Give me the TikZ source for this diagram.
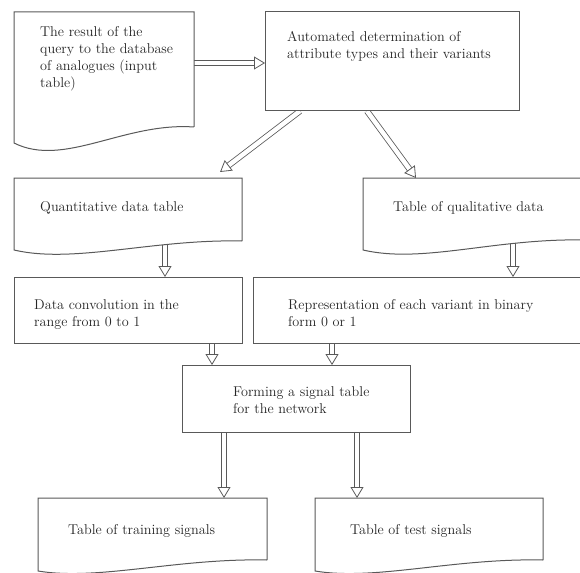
\documentclass[tikz,border=0pt]{standalone}
\usetikzlibrary{arrows.meta,calc}
\pgfdeclarelayer{bg}
\pgfsetlayers{bg,main}
\begin{document}
\begin{tikzpicture}[x=1pt,y=-1pt,
  lbl/.style={anchor=north west, inner sep=0pt, align=left,
    font=\fontsize{14.2}{17}\selectfont, text=black!85},
  frame/.style={draw=black!65, line width=1pt, fill=white},
  slot/.style={inner sep=0pt, outer sep=0pt},
  hollow/.style={draw=black!65, line width=0.8pt, double=white,
    double distance=4.5pt,
    -{Triangle[open, length=11pt, width=13pt, line width=0.8pt]}}]
\useasboundingbox (0,0) rectangle (580,572);
\clip (0,0) rectangle (580,572);

% box outlines (document shapes get their wavy bottom drawn below)
\node[slot, minimum width=180pt, minimum height=115pt] (b1) at (104,69.5) {};
\node[slot, frame, minimum width=254pt, minimum height=99pt] (b2) at (392,61.5) {};
\node[slot, minimum width=228pt, minimum height=63pt] (b3) at (128,209.5) {};
\node[slot, minimum width=222pt, minimum height=62pt] (b4) at (474,209) {};
\node[slot, frame, minimum width=228pt, minimum height=66pt] (b5) at (128,310) {};
\node[slot, frame, minimum width=332pt, minimum height=66pt] (b6) at (419,310) {};
\node[slot, frame, minimum width=228pt, minimum height=67pt] (b7) at (296,398.5) {};
\node[slot, minimum width=229pt, minimum height=62pt] (b8) at (152.5,529) {};
\node[slot, minimum width=228pt, minimum height=62pt] (b9) at (429,529) {};

% document shapes
\draw[frame] (b1.south east) -- (b1.north east) -- (b1.north west)
  -- ([yshift=-16pt]b1.south west) .. controls +(50,25) and +(-70,-5) .. (b1.south east);
\draw[frame] (b3.south east) -- (b3.north east) -- (b3.north west)
  -- ([yshift=-9pt]b3.south west) .. controls +(60,14) and +(-90,-2) .. (b3.south east);
\draw[frame] (b4.south east) -- (b4.north east) -- (b4.north west)
  -- ([yshift=-10pt]b4.south west) .. controls +(60,14) and +(-90,-2) .. (b4.south east);
\draw[frame] (b8.south east) -- (b8.north east) -- (b8.north west)
  -- ([yshift=-11pt]b8.south west) .. controls +(60,10) and +(-90,-2) .. (b8.south east);
\draw[frame] (b9.south east) -- (b9.north east) -- (b9.north west)
  -- ([yshift=-11pt]b9.south west) .. controls +(60,10) and +(-90,-2) .. (b9.south east);

% labels
\node[lbl] (t1) at (40,26) {The result of the\\query to the database\\of analogues (input\\table)};
\node[lbl] (t2) at (287,31) {Automated determination of\\attribute types and their variants};
\node[lbl] (t3) at (40,201) {Quantitative data table};
\node[lbl] (t4) at (393,201) {Table of qualitative data};
\node[lbl] (t5) at (34,299) {Data convolution in the\\range from 0 to 1};
\node[lbl] (t6) at (288,299) {Representation of each variant in binary\\form 0 or 1};
\node[lbl] (t7) at (233,386) {Forming a signal table\\for the network};
\node[lbl] (t8) at (68,524) {Table of training signals};
\node[lbl] (t9) at (350,524) {Table of test signals};

% connector end points
\coordinate (a1) at ([yshift=6.5pt]b1.east);
\coordinate (a2) at ([xshift=35pt]b2.south west);
\coordinate (a2e) at ([shift={(-22pt,6pt)}]b3.north east);
\coordinate (a3) at ([xshift=102pt]b2.south west);
\coordinate (a3e) at ([xshift=53pt]b4.north west);
\coordinate (a4) at ([xshift=37pt]b3.south);
\coordinate (a5) at ([xshift=39pt]b4.south);
\coordinate (a6) at ([xshift=84pt]b5.south);
\coordinate (a7) at ([xshift=-87pt]b6.south);
\coordinate (a8) at ([xshift=-72pt]b7.south);
\coordinate (a9) at ([xshift=61pt]b7.south);

\begin{pgfonlayer}{bg}
\draw[hollow] (a1) -- (a1 -| b2.west);
\draw[hollow] (a2) -- (a2e);
\draw[hollow] (a3) -- (a3e);
\draw[hollow] (a4) -- (a4 |- b5.north);
\draw[hollow] (a5) -- (a5 |- b6.north);
\draw[hollow] (a6) -- (a6 |- b7.north);
\draw[hollow] (a7) -- (a7 |- b7.north);
\draw[hollow] (a8) -- (a8 |- b8.north);
\draw[hollow] (a9) -- (a9 |- b9.north);
\end{pgfonlayer}
\end{tikzpicture}
\end{document}
